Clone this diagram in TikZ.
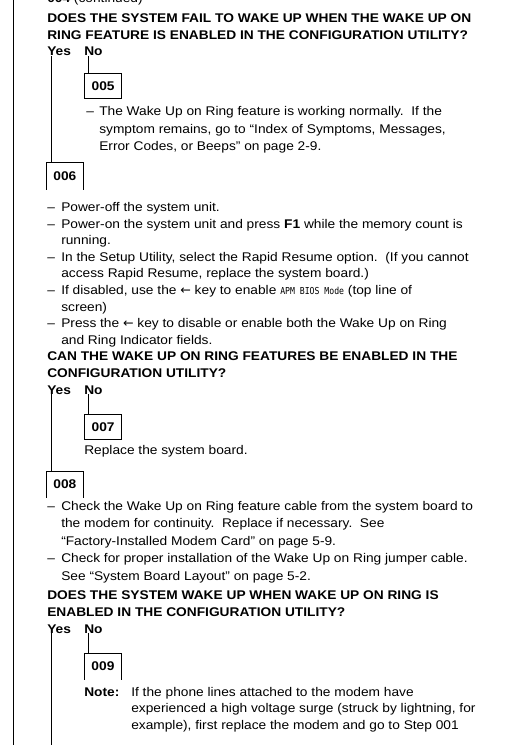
\documentclass[tikz,border=0pt]{standalone}
\usepackage{fontspec}
\setmainfont{Liberation Sans}[FakeStretch=1.09]
\newfontfamily\apmfont{DejaVu Sans Mono}[FakeStretch=0.85]
\newfontfamily\arrowfont{DejaVu Sans}
\usepackage{tikz}
\setlength{\parindent}{0pt}

\newcommand{\bodysize}{\fontsize{9.45pt}{12.45pt}\selectfont}
\newcommand{\lkey}{{\arrowfont ←}}
\newcommand{\apm}[1]{{\apmfont\fontsize{7.2pt}{7.2pt}\selectfont #1}}
\newcommand{\block}[1]{\parbox[t]{380pt}{\raggedright #1}}

\begin{document}
\begin{tikzpicture}[
  x=0.75pt, y=-0.75pt,
  txt/.style={anchor=base west, inner sep=0pt, font=\bodysize},
  qtxt/.style={txt, font=\bodysize\bfseries},
  stepbox/.style={anchor=north west, inner sep=0pt, minimum width=28pt,
                  minimum height=18.5pt, font=\bodysize\bfseries},
  openbox/.style={stepbox, minimum height=19.5pt},
  wire/.style={line width=0.75pt, black}
]
\useasboundingbox (0,0) rectangle (512,745);
\coordinate (pagetop) at (13,0);
\coordinate (pagebottom) at (13,745);
\draw[wire] (pagetop) -- (pagebottom);

\node[txt] (head) at (47,3) {\textbf{004} (continued)};

% step 004 question
\node[qtxt] (q1) at (47,22.7) {\block{DOES THE SYSTEM FAIL TO WAKE UP WHEN THE WAKE UP ON\\
  RING FEATURE IS ENABLED IN THE CONFIGURATION UTILITY?}};
\node[qtxt] (yes1) at (47,56) {Yes};
\node[qtxt] (no1) at (84,56) {No};

\node[stepbox, draw, line width=0.75pt] (s005) at (84,73) {005};
\node[txt] (d005) at (86,116) {–};
\node[txt] (t005) at (99,116) {\block{\baselineskip=12.9pt
  The Wake Up on Ring feature is working normally.\ \ If the\\
  symptom remains, go to “Index of Symptoms, Messages,\\
  Error Codes, or Beeps” on page~2-9.}};

\node[openbox] (s006) at (46,163) {006};
\node[txt] (d006a) at (47,211.7) {–};
\node[txt] (t006a) at (61,211.7) {Power-off the system unit.};
\node[txt] (d006b) at (47,228.3) {–};
\node[txt] (t006b) at (61,228.3) {\block{Power-on the system unit and press \textbf{F1} while the memory count is\\
  running.}};
\node[txt] (d006c) at (47,261.4) {–};
\node[txt] (t006c) at (61,261.4) {\block{In the Setup Utility, select the Rapid Resume option.\ \ (If you cannot\\
  access Rapid Resume, replace the system board.)}};
\node[txt] (d006d) at (47,294.6) {–};
\node[txt] (t006d) at (61,294.6) {\block{If disabled, use the \lkey{} key to enable \apm{APM BIOS Mode} (top line of\\
  screen)}};
\node[txt] (d006e) at (47,327.7) {–};
\node[txt] (t006e) at (61,327.7) {\block{Press the \lkey{} key to disable or enable both the Wake Up on Ring\\
  and Ring Indicator fields.}};

\node[qtxt] (q2) at (47,360.8) {\block{CAN THE WAKE UP ON RING FEATURES BE ENABLED IN THE\\
  CONFIGURATION UTILITY?}};
\node[qtxt] (yes2) at (47,394) {Yes};
\node[qtxt] (no2) at (84,394) {No};

\node[stepbox, draw, line width=0.75pt] (s007) at (84,414) {007};
\node[txt] (t007) at (84,454.5) {Replace the system board.};

\node[openbox] (s008) at (46,471) {008};
\node[txt] (d008a) at (47,510) {–};
\node[txt] (t008a) at (61,510) {\block{\baselineskip=13.2pt
  Check the Wake Up on Ring feature cable from the system board to\\
  the modem for continuity.\ \ Replace if necessary.\ \ See\\
  “Factory-Installed Modem Card” on page~5-9.}};
\node[txt] (d008b) at (47,562.8) {–};
\node[txt] (t008b) at (61,562.8) {\block{\baselineskip=13.2pt
  Check for proper installation of the Wake Up on Ring jumper cable.\\
  See “System Board Layout” on page~5-2.}};

\node[qtxt] (q3) at (47,599.5) {\block{DOES THE SYSTEM WAKE UP WHEN WAKE UP ON RING IS\\
  ENABLED IN THE CONFIGURATION UTILITY?}};
\node[qtxt] (yes3) at (47,633) {Yes};
\node[qtxt] (no3) at (84,633) {No};

\node[openbox] (s009) at (84,653) {009};
\node[txt, font=\bodysize\bfseries] (note) at (84,696) {Note:};
\node[txt] (t009) at (131,696) {\block{If the phone lines attached to the modem have\\
  experienced a high voltage surge (struck by lightning, for\\
  example), first replace the modem and go to Step 001}};

% open step boxes
\foreach \s in {s006,s008,s009}
  \draw[wire] (\s.south west) -- (\s.north west) -- (\s.north east) -- (\s.south east);

% yes / no branches
\draw[wire] ([xshift=3pt]no1.south west) -- ([xshift=3pt]no1.south west |- s005.north);
\draw[wire] ([xshift=3pt]yes1.south west) -- ([xshift=3pt]yes1.south west |- s006.north);
\draw[wire] ([xshift=3pt]no2.south west) -- ([xshift=3pt]no2.south west |- s007.north);
\draw[wire] ([xshift=3pt]yes2.south west) -- ([xshift=3pt]yes2.south west |- s008.north);
\draw[wire] ([xshift=3pt]no3.south west) -- ([xshift=3pt]no3.south west |- s009.north);
\draw[wire] ([xshift=3pt]yes3.south west) -- ([xshift=3pt]yes3.south west |- pagebottom);
\end{tikzpicture}
\end{document}
